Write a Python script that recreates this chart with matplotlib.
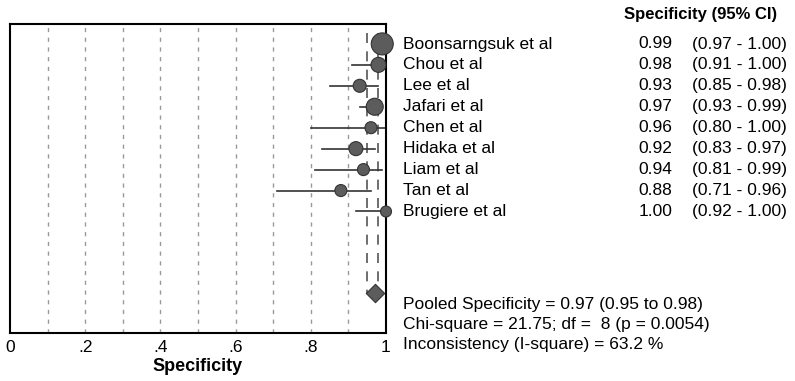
import numpy as np
from matplotlib import pyplot as plt

plt.rcParams['font.family'] = ['Liberation Sans', 'DejaVu Sans']

# 各研究のデータ
studies = ["Boonsarngsuk et al", "Chou et al", "Lee et al", "Jafari et al", "Chen et al",
           "Hidaka et al", "Liam et al", "Tan et al", "Brugiere et al"]
spec    = [0.99, 0.98, 0.93, 0.97, 0.96, 0.92, 0.94, 0.88, 1.00]
ci_low  = [0.97, 0.91, 0.85, 0.93, 0.80, 0.83, 0.81, 0.71, 0.92]
ci_high = [1.00, 1.00, 0.98, 0.99, 1.00, 0.97, 0.99, 0.96, 1.00]
weight  = [22, 15, 13, 17, 12, 14, 12, 12, 11]  # 見た目のマーカー径(重み)

pooled      = 0.97
pooled_low  = 0.95
pooled_high = 0.98
pooled_text = ["Pooled Specificity = 0.97 (0.95 to 0.98)",
               "Chi-square = 21.75; df =  8 (p = 0.0054)",
               "Inconsistency (I-square) = 63.2 %"]

xticks = [0, 0.2, 0.4, 0.6, 0.8, 1.0]
xtick_labels = ["0", ".2", ".4", ".6", ".8", "1"]

fig = plt.figure(figsize=(7.95, 3.81), dpi=100)
ax = fig.add_axes([10 / 795, 1 - 333 / 381, 376 / 795, 309 / 381])

rows = np.arange(len(studies))
pooled_row = 11.9

# グリッド(破線)
for gx in np.arange(1, 10) / 10:
    ax.axvline(gx, color="#999999", ls=(0, (3, 4)), lw=1.0, zorder=0)

# 統合CIの縦線
for gx in [pooled_low, pooled_high]:
    ax.plot([gx, gx], [-0.5, pooled_row], color="#555555", ls=(0, (6, 5)), lw=1.2, zorder=1)

# CIライン
for i in rows:
    ax.plot([ci_low[i], ci_high[i]], [i, i], color="#333333", lw=1.2, zorder=2)

# 点推定
ax.scatter(spec, rows, s=(np.array(weight) * 0.72) ** 2, c="#5c5c5c",
           edgecolors="#333333", linewidths=0.8, zorder=3, clip_on=False)

# 統合推定(ダイヤ)
ax.scatter([pooled], [pooled_row], s=(13 * 0.72) ** 2, marker="D", c="#5c5c5c",
           edgecolors="#333333", linewidths=0.8, zorder=3)

ax.set_xlim(0, 1)
ax.set_ylim(13.8, -0.95)
ax.set_yticks([])
ax.set_xticks(xticks)
ax.set_xticklabels(xtick_labels, fontsize=12.5)
ax.tick_params(axis="x", length=0, pad=5)
ax.set_xlabel("Specificity", fontsize=13, fontweight="bold", labelpad=2)
for sp in ax.spines.values():
    sp.set_linewidth(1.5)

# 右側のテキスト
fig.text(701 / 795, 1 - 14 / 381, "Specificity (95% CI)", fontsize=12,
         fontweight="bold", ha="center", va="center")
for i in rows:
    ypix = 44 + i * 20.9
    yf = 1 - ypix / 381
    fig.text(403 / 795, yf, studies[i], fontsize=12.5, ha="left", va="center")
    fig.text(672 / 795, yf, "%.2f" % spec[i], fontsize=12.5, ha="right", va="center")
    fig.text(787 / 795, yf, "(%.2f - %.2f)" % (ci_low[i], ci_high[i]), fontsize=12.5,
             ha="right", va="center")

for k, t in enumerate(pooled_text):
    fig.text(403 / 795, 1 - (304 + k * 20.5) / 381, t, fontsize=12.5, ha="left", va="center")

plt.savefig("out.png", dpi=100)
